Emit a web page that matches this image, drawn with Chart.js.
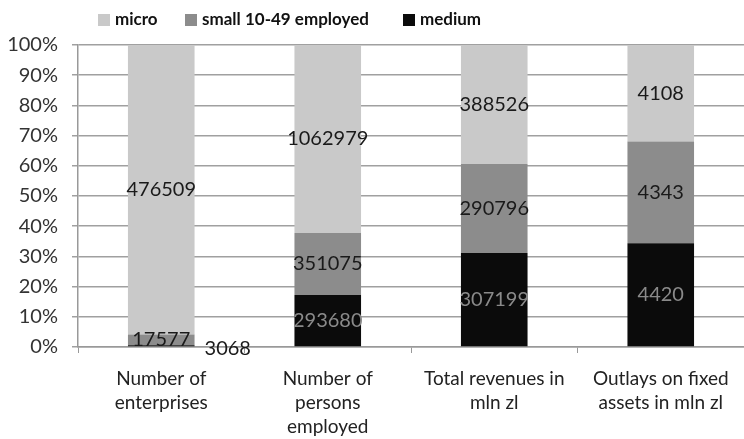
<!DOCTYPE html>
<html>
<head>
<meta charset="utf-8">
<script src="https://cdn.jsdelivr.net/npm/chart.js@4.4.1/dist/chart.umd.min.js"></script>
<style>
  html, body { margin: 0; padding: 0; background: #fff; }
  #wrap { width: 744px; height: 439px; }
</style>
</head>
<body>
<div id="wrap"><canvas id="chart"></canvas></div>
<script>
// categories and raw values
const categories = [
  ["Number of", "enterprises"],
  ["Number of", "persons", "employed"],
  ["Total revenues in", "mln zl"],
  ["Outlays on fixed", "assets in mln zl"]
];
const micro = [476509, 1062979, 388526, 4108];
const small = [17577, 351075, 290796, 4343];
const medium = [3068, 293680, 307199, 4420];

const seriesNames = ["micro", "small 10-49 employed", "medium"];
const seriesColors = ["#c9c9c9", "#8c8c8c", "#0b0b0b"];

// 100% stacked -> shares of each column total
const totals = micro.map((v, i) => v + small[i] + medium[i]);
const share = arr => arr.map((v, i) => v / totals[i] * 100);

const FONT = "Lato, 'Open Sans', sans-serif";

// value labels (raw numbers) on each segment
const valueLabels = {
  id: 'valueLabels',
  afterDatasetsDraw(chart) {
    const ctx = chart.ctx;
    ctx.save();
    ctx.font = "20px " + FONT;
    ctx.textBaseline = 'middle';
    chart.data.datasets.forEach((ds, di) => {
      const meta = chart.getDatasetMeta(di);
      meta.data.forEach((el, i) => {
        const p = el.getProps(['x', 'y', 'base', 'width'], true);
        const h = Math.abs(p.base - p.y);
        const txt = String(ds.raw[i]);
        if (h < 6) {
          // too thin: put it beside the bar
          ctx.fillStyle = '#1a1a1a';
          ctx.textAlign = 'left';
          ctx.fillText(txt, p.x + p.width / 2 + 10, p.base + 2);
        } else {
          ctx.fillStyle = ds.labelColor;
          ctx.textAlign = 'center';
          ctx.fillText(txt, p.x, (p.y + p.base) / 2);
        }
      });
    });
    ctx.restore();
  }
};

// legend laid out like the original (left-ish, wide gaps)
const topLegend = {
  id: 'topLegend',
  afterDraw(chart) {
    const ctx = chart.ctx;
    const xs = [98, 185, 403];
    ctx.save();
    ctx.font = "bold 17px " + FONT;
    ctx.textBaseline = 'middle';
    ctx.textAlign = 'left';
    seriesNames.forEach((name, i) => {
      ctx.fillStyle = seriesColors[i];
      ctx.fillRect(xs[i], 14, 12, 12);
      ctx.fillStyle = '#111';
      ctx.fillText(name, xs[i] + 17, 20);
    });
    ctx.restore();
  }
};

new Chart(document.getElementById('chart'), {
  type: 'bar',
  data: {
    labels: categories,
    datasets: [
      { label: seriesNames[2], data: share(medium), raw: medium, backgroundColor: seriesColors[2], labelColor: '#8a8a8a' },
      { label: seriesNames[1], data: share(small), raw: small, backgroundColor: seriesColors[1], labelColor: '#1a1a1a' },
      { label: seriesNames[0], data: share(micro), raw: micro, backgroundColor: seriesColors[0], labelColor: '#1a1a1a' }
    ]
  },
  options: {
    responsive: true,
    maintainAspectRatio: false,
    animation: false,
    layout: { padding: { top: 45, right: 0, left: 0, bottom: 0 } },
    datasets: { bar: { barPercentage: 0.4, categoryPercentage: 1 } },
    plugins: {
      legend: { display: false },
      tooltip: { enabled: false }
    },
    scales: {
      x: {
        stacked: true,
        grid: { drawOnChartArea: false, color: '#999', tickLength: 6 },
        border: { color: '#999', width: 1.5 },
        ticks: { color: '#222', font: { family: FONT, size: 19, lineHeight: 1.25 }, padding: 14, maxRotation: 0 },
        afterFit: s => { s.height = 92; }
      },
      y: {
        stacked: true,
        min: 0,
        max: 100,
        grid: { color: '#a0a0a0', lineWidth: 1.5, tickLength: 6 },
        border: { color: '#999', width: 1.5 },
        ticks: {
          stepSize: 10,
          color: '#333',
          padding: 14,
          font: { family: FONT, size: 20 },
          callback: v => v + '%'
        },
        afterFit: s => { s.width = 78; }
      }
    }
  },
  plugins: [valueLabels, topLegend]
});
</script>
</body>
</html>
